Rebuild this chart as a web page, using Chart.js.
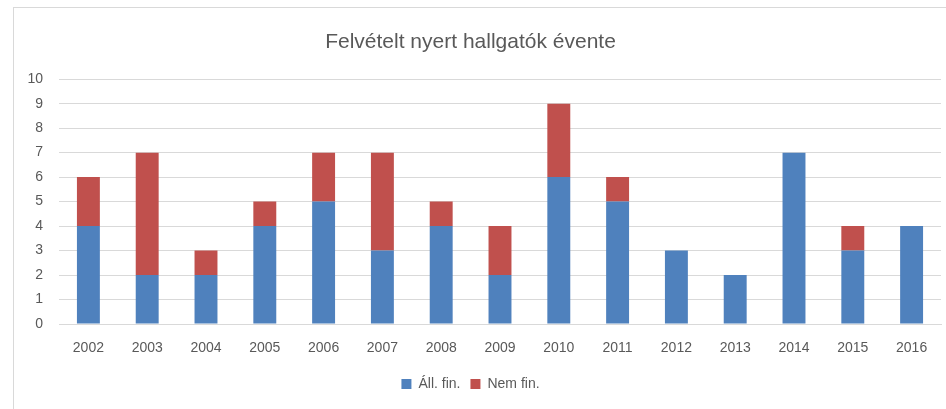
<!DOCTYPE html>
<html><head><meta charset="utf-8">
<script src="https://cdn.jsdelivr.net/npm/chart.js@4"></script>
<style>
html,body{margin:0;padding:0;background:#fff;}
#wrap{position:relative;width:946px;height:409px;overflow:hidden;}
#frame{position:absolute;left:13px;top:7px;width:1000px;height:500px;border:1px solid #d9d9d9;box-sizing:border-box;}
#c{position:absolute;left:0;top:0;}
</style></head>
<body><div id="wrap"><div id="frame"></div><canvas id="c" width="946" height="409"></canvas></div>
<script>
const categories = ["2002","2003","2004","2005","2006","2007","2008","2009","2010","2011","2012","2013","2014","2015","2016"];
const allFin = [4,2,2,4,5,3,4,2,6,5,3,2,7,3,4];
const nemFin = [2,5,1,1,2,4,1,2,3,1,0,0,0,1,0];
const seriesNames = ["Áll. fin.","Nem fin."];
const titleText = "Felvételt nyert hallgatók évente";
const FONT = "'Liberation Sans', Arial, sans-serif";
const TXT = "#595959";
new Chart(document.getElementById('c'), {
  type: 'bar',
  data: {
    labels: categories,
    datasets: [
      {label: seriesNames[0], data: allFin, backgroundColor: '#4f81bd', barPercentage: 0.39, categoryPercentage: 1},
      {label: seriesNames[1], data: nemFin, backgroundColor: '#c0504d', barPercentage: 0.39, categoryPercentage: 1}
    ]
  },
  options: {
    responsive: false, animation: false,
    layout: {padding: {left: 0, right: 5, top: 0, bottom: 8}},
    plugins: {
      title: {display: true, text: titleText, color: TXT, font: {family: FONT, size: 21, weight: 'normal'}, padding: {top: 30, bottom: 24}},
      legend: {position: 'bottom', labels: {color: TXT, font: {family: FONT, size: 14}, boxWidth: 10, boxHeight: 10, padding: 10}},
      tooltip: {enabled: false}
    },
    scales: {
      x: {stacked: true, grid: {display: false, drawTicks: false}, border: {color: '#d9d9d9', width: 1},
          ticks: {color: TXT, font: {family: FONT, size: 14}, padding: 16},
          afterFit: s => { s.height = 43; }},
      y: {stacked: true, min: 0, max: 10, grid: {color: '#d9d9d9', drawTicks: false}, border: {display: false},
          ticks: {stepSize: 1, color: TXT, font: {family: FONT, size: 14}, padding: 16},
          afterFit: s => { s.width = 59; }}
    }
  }
});
</script></body></html>
